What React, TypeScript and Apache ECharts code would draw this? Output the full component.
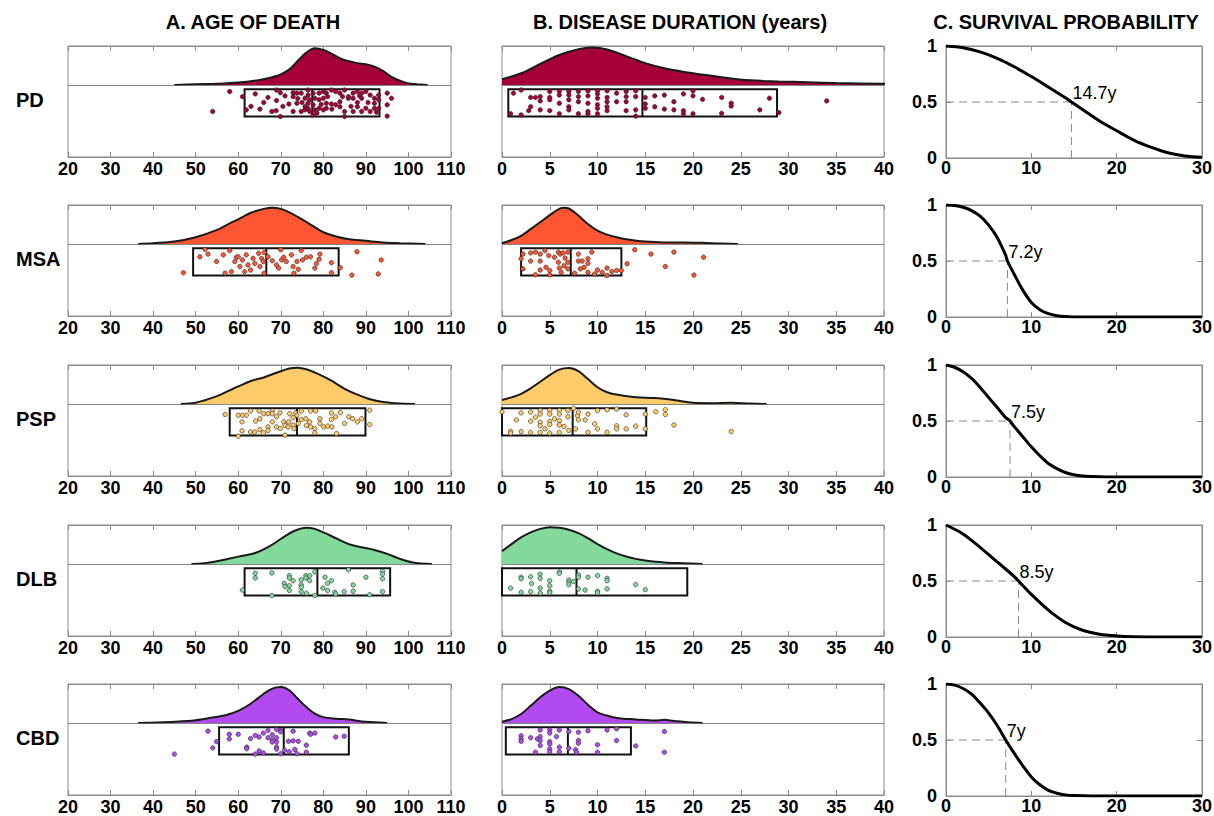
import React, { useEffect, useRef } from 'react';
import * as echarts from 'echarts';

const FONT = '"Liberation Sans", Arial, Helvetica, sans-serif';

const diseases = ['PD', 'MSA', 'PSP', 'DLB', 'CBD'];
const panelTitles = ['A. AGE OF DEATH', 'B. DISEASE DURATION (years)', 'C. SURVIVAL PROBABILITY'];
const ageTicks = [20, 30, 40, 50, 60, 70, 80, 90, 100, 110];
const durationTicks = [0, 5, 10, 15, 20, 25, 30, 35, 40];
const timeTicks = [0, 10, 20, 30];
const probTicks = [0, 0.5, 1];

// box summaries [q1, median, q3]
const ageBoxes = [[61.5, 77.4, 93.2], [49.4, 66.6, 83.6], [58.0, 73.8, 89.9], [61.5, 78.6, 95.7], [55.5, 70.7, 86.0]];
const durationBoxes = [[0.66, 14.7, 28.8], [2.0, 7.2, 12.5], [0, 7.4, 15.1], [0, 7.8, 19.4], [0.4, 6.9, 13.5]];
const medianSurvival = [14.7, 7.2, 7.5, 8.5, 7];

// density curves (scaled, peak ~0.94)
const pdAgeDensity = [[45, 0], [50, 0.02], [55, 0.03], [60, 0.06], [65, 0.13], [68, 0.2], [70, 0.27], [72, 0.4], [74, 0.62], [76, 0.83], [78, 0.94], [80, 0.9], [82, 0.8], [84, 0.68], [86, 0.61], [88, 0.56], [90, 0.53], [92, 0.47], [94, 0.36], [96, 0.21], [98, 0.11], [100, 0.04], [102, 0.02], [104.5, 0]];
const msaAgeDensity = [[36.5, 0], [40, 0.02], [45, 0.06], [50, 0.17], [55, 0.36], [58, 0.53], [60, 0.63], [63, 0.8], [66, 0.9], [68, 0.93], [70, 0.9], [72, 0.81], [75, 0.63], [78, 0.43], [80, 0.3], [83, 0.19], [86, 0.12], [90, 0.08], [94, 0.04], [98, 0.02], [104, 0]];
const pspAgeDensity = [[46.5, 0], [50, 0.03], [55, 0.2], [58, 0.35], [60, 0.45], [63, 0.59], [66, 0.68], [69, 0.8], [72, 0.91], [74, 0.93], [76, 0.89], [79, 0.76], [82, 0.59], [85, 0.39], [88, 0.24], [91, 0.12], [94, 0.05], [97, 0.02], [101.5, 0]];
const dlbAgeDensity = [[49, 0], [52, 0.02], [55, 0.07], [58, 0.14], [61, 0.21], [64, 0.28], [67, 0.43], [70, 0.64], [73, 0.84], [76, 0.93], [78, 0.9], [80, 0.81], [83, 0.66], [86, 0.51], [89, 0.43], [92, 0.36], [95, 0.26], [98, 0.13], [101, 0.04], [105.5, 0]];
const cbdAgeDensity = [[36.5, 0], [40, 0.01], [45, 0.03], [50, 0.07], [54, 0.14], [57, 0.2], [60, 0.31], [63, 0.5], [66, 0.75], [68, 0.88], [70, 0.92], [72, 0.84], [74, 0.62], [76, 0.41], [78, 0.24], [80, 0.15], [83, 0.11], [86, 0.09], [89, 0.04], [92, 0.02], [95, 0]];

const pdDurationDensity = [[0, 0.15], [2, 0.3], [4, 0.54], [6, 0.77], [8, 0.92], [9.5, 0.96], [11, 0.91], [13, 0.74], [15, 0.56], [17, 0.43], [20, 0.3], [23, 0.2], [26, 0.12], [29, 0.09], [32, 0.07], [35, 0.05], [40, 0.03], [42, 0.02]];
const msaDurationDensity = [[0, 0.02], [1, 0.1], [2, 0.21], [3, 0.38], [4, 0.56], [5, 0.74], [6, 0.9], [6.5, 0.93], [7, 0.91], [8, 0.73], [9, 0.51], [10, 0.34], [11, 0.24], [12, 0.17], [13, 0.12], [15, 0.06], [17, 0.04], [19, 0.04], [21, 0.03], [23, 0.01], [24.7, 0]];
const pspDurationDensity = [[0, 0.1], [1, 0.17], [2, 0.26], [3, 0.4], [4, 0.57], [5, 0.74], [6, 0.88], [7, 0.92], [8, 0.84], [9, 0.64], [10, 0.43], [11, 0.3], [12, 0.24], [14, 0.17], [16, 0.15], [18, 0.1], [20, 0.03], [22, 0.02], [24, 0.03], [26, 0.01], [27.7, 0]];
const dlbDurationDensity = [[0, 0.33], [1, 0.51], [2, 0.68], [3, 0.81], [4, 0.9], [5, 0.94], [6, 0.93], [7, 0.88], [8, 0.79], [9, 0.66], [10, 0.51], [11, 0.38], [12, 0.27], [13, 0.19], [14, 0.13], [15, 0.09], [17, 0.04], [19, 0.02], [21, 0]];
const cbdDurationDensity = [[0, 0.03], [1, 0.1], [2, 0.23], [3, 0.44], [4, 0.66], [5, 0.83], [6, 0.92], [7, 0.87], [8, 0.7], [9, 0.47], [10, 0.27], [11, 0.19], [12, 0.13], [14, 0.09], [16, 0.06], [17, 0.08], [18, 0.05], [19.5, 0.02], [21, 0]];

// individual cases [value, jitter]
const pdAgePoints = [[58.0, -0.17], [54.0, -0.68], [61.0, -0.30], [61.9, -0.64], [64.0, -0.23], [65.1, -0.62], [67.0, -0.32], [67.9, -0.68], [69.0, -0.13], [69.0, -0.40], [68.9, -0.66], [69.9, -0.20], [69.9, -0.81], [71.9, -0.49], [72.9, -0.20], [72.9, -0.30], [72.9, -0.68], [73.8, -0.21], [73.8, -0.47], [74.8, -0.21], [74.8, -0.68], [75.7, -0.34], [75.7, -0.56], [75.7, -0.64], [76.4, -0.13], [76.4, -0.26], [76.4, -0.47], [76.4, -0.60], [76.8, -0.38], [76.8, -0.68], [77.6, -0.21], [77.6, -0.51], [77.6, -0.77], [78.0, -0.34], [78.0, -0.64], [79.0, -0.21], [79.0, -0.38], [79.0, -0.60], [80.0, -0.17], [80.0, -0.34], [80.0, -0.64], [80.7, -0.21], [80.7, -0.47], [80.7, -0.60], [81.9, -0.13], [81.9, -0.49], [82.9, -0.17], [82.9, -0.51], [83.9, -0.43], [83.9, -0.56], [83.9, -0.21], [85.0, -0.13], [85.0, -0.68], [85.0, -0.81], [85.9, -0.34], [85.9, -0.30], [87.0, -0.21], [87.0, -0.34], [87.0, -0.68], [88.0, -0.17], [88.0, -0.45], [88.0, -0.56], [89.0, -0.21], [89.0, -0.34], [89.0, -0.68], [90.0, -0.17], [90.0, -0.60], [91.0, -0.26], [91.0, -0.68], [92.0, -0.34], [92.0, -0.47], [92.0, -0.60], [93.0, -0.26], [93.0, -0.38], [93.0, -0.60], [95.0, -0.21], [95.0, -0.80], [95.0, -0.51], [96.0, -0.34], [70.5, -0.55], [71.0, -0.28], [74.0, -0.35], [75.0, -0.45], [78.5, -0.72], [79.5, -0.50], [81.0, -0.30], [82.0, -0.62], [84.5, -0.30], [86.5, -0.55], [88.5, -0.28], [90.5, -0.45], [92.5, -0.70], [66.0, -0.45], [63.0, -0.55]];
const msaAgePoints = [[47.1, -0.74], [51.0, -0.33], [52.2, -0.14], [52.9, -0.26], [54.9, -0.45], [56.5, -0.28], [56.9, -0.75], [58.0, -0.17], [58.4, -0.71], [59.2, -0.45], [59.6, -0.34], [60.0, -0.33], [60.4, -0.58], [61.0, -0.41], [61.5, -0.71], [61.9, -0.28], [62.3, -0.54], [62.9, -0.67], [63.5, -0.37], [63.9, -0.50], [64.8, -0.24], [65.1, -0.58], [65.5, -0.37], [65.9, -0.45], [66.1, -0.22], [66.1, -0.75], [67.0, -0.33], [68.0, -0.43], [69.0, -0.54], [69.5, -0.62], [70.0, -0.15], [70.2, -0.41], [70.7, -0.34], [71.3, -0.45], [72.5, -0.28], [72.9, -0.58], [73.1, -0.75], [73.8, -0.45], [74.1, -0.65], [74.8, -0.17], [75.1, -0.41], [76.0, -0.34], [77.0, -0.33], [78.0, -0.62], [78.4, -0.50], [79.0, -0.39], [79.2, -0.26], [81.9, -0.48], [81.9, -0.74], [84.0, -0.61], [86.7, -0.80], [87.9, -0.20], [92.9, -0.77], [93.6, -0.41]];
const pspAgePoints = [[56.9, -0.27], [60.0, -0.29], [60.0, -0.83], [60.9, -0.46], [60.9, -0.69], [61.0, -0.29], [61.9, -0.29], [62.9, -0.18], [62.9, -0.72], [63.9, -0.72], [64.1, -0.44], [64.9, -0.18], [65.1, -0.38], [65.1, -0.66], [65.9, -0.74], [66.0, -0.25], [67.0, -0.25], [67.0, -0.59], [67.0, -0.68], [68.0, -0.18], [68.0, -0.25], [68.0, -0.46], [69.0, -0.33], [69.0, -0.59], [69.8, -0.23], [69.9, -0.63], [70.7, -0.46], [71.0, -0.55], [71.0, -0.80], [71.7, -0.59], [71.9, -0.46], [72.1, -0.25], [72.9, -0.35], [72.9, -0.55], [73.1, -0.63], [73.5, -0.23], [73.8, -0.29], [74.1, -0.50], [74.8, -0.18], [74.8, -0.40], [75.9, -0.38], [76.0, -0.55], [76.8, -0.46], [77.0, -0.18], [77.0, -0.59], [78.0, -0.63], [78.0, -0.74], [78.2, -0.18], [79.2, -0.38], [79.2, -0.50], [80.1, -0.59], [81.0, -0.57], [81.9, -0.23], [81.9, -0.40], [82.0, -0.59], [82.9, -0.33], [83.1, -0.76], [84.0, -0.22], [85.0, -0.50], [86.0, -0.33], [86.9, -0.38], [88.0, -0.46], [89.0, -0.38], [90.9, -0.16], [90.9, -0.53]];
const dlbAgePoints = [[61.0, -0.67], [64.0, -0.24], [64.0, -0.36], [67.9, -0.23], [67.9, -0.81], [70.8, -0.50], [71.0, -0.58], [72.0, -0.30], [72.0, -0.36], [72.0, -0.56], [72.0, -0.68], [72.9, -0.43], [74.8, -0.41], [74.8, -0.54], [74.8, -0.60], [74.8, -0.71], [75.9, -0.30], [75.9, -0.36], [76.0, -0.75], [76.8, -0.30], [76.8, -0.43], [78.0, -0.20], [78.0, -0.81], [79.9, -0.62], [80.4, -0.34], [81.0, -0.50], [81.0, -0.68], [81.9, -0.43], [82.7, -0.73], [82.9, -0.77], [84.9, -0.71], [85.9, -0.15], [87.0, -0.54], [87.0, -0.70], [90.0, -0.34], [90.9, -0.79], [93.9, -0.19], [93.9, -0.26], [93.9, -0.38], [93.9, -0.71]];
const cbdAgePoints = [[45.0, -0.80], [52.9, -0.21], [54.0, -0.64], [54.9, -0.48], [57.9, -0.29], [57.9, -0.41], [60.0, -0.29], [62.0, -0.62], [62.0, -0.66], [62.9, -0.40], [64.0, -0.32], [64.0, -0.80], [64.9, -0.36], [64.9, -0.72], [65.9, -0.26], [65.9, -0.77], [67.0, -0.19], [67.0, -0.38], [68.0, -0.30], [68.0, -0.43], [68.0, -0.49], [69.0, -0.17], [69.0, -0.38], [69.0, -0.49], [69.0, -0.62], [69.0, -0.67], [70.0, -0.19], [70.0, -0.23], [70.0, -0.79], [70.9, -0.70], [71.8, -0.47], [72.0, -0.74], [72.9, -0.21], [72.9, -0.46], [73.3, -0.68], [74.1, -0.47], [73.8, -0.79], [76.0, -0.57], [76.0, -0.75], [76.8, -0.26], [77.0, -0.29], [78.0, -0.26], [82.9, -0.36], [84.9, -0.34]];

const pdDurationPoints = [[0.9, -0.74], [1.2, -0.21], [2, -0.13], [2, -0.77], [2.8, -0.66], [3, -0.32], [3, -0.56], [3.5, -0.32], [4, -0.30], [4, -0.41], [4, -0.64], [5, -0.17], [5, -0.32], [5, -0.38], [5, -0.66], [6, -0.17], [6, -0.26], [6, -0.47], [6, -0.74], [7, -0.17], [7, -0.26], [7, -0.38], [7, -0.56], [7, -0.64], [8, -0.17], [8, -0.30], [8, -0.43], [8, -0.74], [9, -0.15], [9, -0.28], [9, -0.47], [9, -0.68], [9, -0.74], [10, -0.15], [10, -0.23], [10, -0.34], [10, -0.51], [10, -0.60], [10, -0.74], [11, -0.15], [11, -0.32], [11, -0.43], [11, -0.56], [11, -0.66], [12, -0.21], [12, -0.43], [13, -0.17], [13, -0.30], [13, -0.43], [13, -0.66], [14, -0.15], [14, -0.30], [14, -0.64], [14, -0.80], [15, -0.32], [15, -0.49], [15, -0.60], [16, -0.28], [16, -0.56], [17, -0.26], [17, -0.62], [18, -0.43], [18, -0.64], [19, -0.23], [19, -0.66], [19, -0.74], [20, -0.15], [20, -0.28], [20, -0.74], [21, -0.37], [23, -0.32], [23, -0.73], [24, -0.47], [24, -0.54], [27, -0.64], [28, -0.34], [29, -0.71], [34, -0.41]];
const msaDurationPoints = [[2.0, -0.38], [2.2, -0.64], [2.2, -0.26], [3.0, -0.23], [3.0, -0.44], [3.5, -0.21], [3.5, -0.79], [4.0, -0.26], [4.0, -0.44], [4.0, -0.67], [4.5, -0.17], [4.6, -0.60], [4.9, -0.30], [5.0, -0.68], [5.0, -0.79], [5.5, -0.34], [5.9, -0.21], [5.9, -0.47], [6.0, -0.62], [6.1, -0.26], [6.2, -0.73], [6.4, -0.23], [6.5, -0.56], [6.6, -0.36], [6.9, -0.21], [6.9, -0.47], [6.9, -0.64], [7.6, -0.75], [8.0, -0.26], [8.0, -0.44], [8.2, -0.64], [8.4, -0.44], [8.6, -0.60], [9.0, -0.38], [9.0, -0.50], [9.0, -0.73], [9.4, -0.21], [9.7, -0.77], [10.0, -0.67], [10.5, -0.73], [11.0, -0.62], [11.0, -0.81], [11.5, -0.71], [12.0, -0.68], [12.5, -0.68], [13.1, -0.51], [13.9, -0.15], [15.6, -0.26], [17.1, -0.58], [18.0, -0.21], [20.1, -0.80], [21.1, -0.34]];
const pspDurationPoints = [[0, -0.20], [0.9, -0.70], [0.9, -0.75], [1.5, -0.41], [2.0, -0.23], [2.0, -0.71], [3.0, -0.21], [3.0, -0.44], [3.0, -0.73], [3.5, -0.34], [4.0, -0.17], [4.0, -0.26], [4.0, -0.47], [4.0, -0.56], [4.0, -0.73], [4.5, -0.64], [5.0, -0.17], [5.0, -0.26], [5.0, -0.45], [5.0, -0.53], [5.0, -0.75], [5.5, -0.38], [6.0, -0.17], [6.0, -0.26], [6.0, -0.43], [6.0, -0.54], [6.0, -0.73], [6.5, -0.58], [6.9, -0.17], [6.9, -0.33], [7.0, -0.68], [7.5, -0.11], [7.7, -0.64], [7.9, -0.30], [8.0, -0.21], [8.0, -0.41], [8.7, -0.41], [9.0, -0.26], [9.0, -0.73], [9.7, -0.51], [10.0, -0.17], [10.0, -0.64], [11.0, -0.15], [11.0, -0.73], [12.0, -0.13], [12.0, -0.56], [12.0, -0.64], [13.0, -0.28], [13.0, -0.64], [14.0, -0.57], [15.0, -0.26], [15.0, -0.64], [16.1, -0.20], [17.1, -0.15], [17.1, -0.27], [18.0, -0.54], [24.0, -0.71]];
const dlbDurationPoints = [[0.9, -0.62], [2.0, -0.34], [2.0, -0.38], [2.0, -0.73], [3.0, -0.33], [3.1, -0.50], [3.0, -0.71], [4.0, -0.26], [4.0, -0.37], [4.0, -0.62], [4.0, -0.75], [5.0, -0.43], [5.0, -0.56], [5.0, -0.70], [5.0, -0.74], [6.0, -0.21], [6.0, -0.24], [7.0, -0.41], [7.0, -0.47], [7.0, -0.53], [7.5, -0.45], [8.0, -0.28], [8.0, -0.34], [8.0, -0.64], [8.7, -0.67], [9.0, -0.34], [10.0, -0.30], [10.0, -0.70], [10.0, -0.74], [11.0, -0.37], [11.0, -0.43], [11.0, -0.64], [14.0, -0.53], [15.0, -0.66]];
const cbdDurationPoints = [[2.0, -0.33], [2.0, -0.41], [2.0, -0.47], [3.0, -0.38], [3.5, -0.75], [3.7, -0.41], [4.0, -0.18], [4.0, -0.35], [4.0, -0.45], [4.0, -0.58], [5.0, -0.18], [5.0, -0.26], [5.0, -0.48], [5.0, -0.54], [5.0, -0.67], [5.0, -0.74], [5.7, -0.35], [6.0, -0.18], [6.0, -0.62], [6.0, -0.74], [7.0, -0.22], [7.0, -0.65], [7.7, -0.69], [7.8, -0.75], [8.0, -0.24], [8.0, -0.45], [8.0, -0.52], [9.0, -0.20], [10.0, -0.56], [10.0, -0.75], [11.0, -0.18], [12.0, -0.15], [12.0, -0.45], [14.0, -0.59], [17.0, -0.22], [17.0, -0.75]];

// survival curves [years, probability]
const pdSurvival = [[0, 1], [2, 0.985], [4, 0.947], [6, 0.89], [8, 0.815], [10, 0.727], [12, 0.633], [14, 0.537], [14.7, 0.5], [16, 0.434], [18, 0.33], [20, 0.243], [22, 0.16], [24, 0.097], [26, 0.047], [28, 0.018], [30, 0.006]];
const msaSurvival = [[0, 1], [1, 0.995], [2, 0.98], [3, 0.95], [4, 0.9], [5, 0.82], [6, 0.71], [7, 0.55], [7.2, 0.5], [8, 0.38], [9, 0.24], [10, 0.13], [11, 0.065], [12, 0.03], [13, 0.012], [14, 0.004], [15, 0.001], [17, 0], [30, 0]];
const pspSurvival = [[0, 1], [1, 0.98], [2, 0.94], [3, 0.88], [4, 0.8], [5, 0.71], [6, 0.62], [7, 0.53], [7.5, 0.5], [8, 0.45], [9, 0.36], [10, 0.27], [11, 0.19], [12, 0.12], [13, 0.075], [14, 0.04], [15, 0.02], [16, 0.01], [18, 0.002], [20, 0], [30, 0]];
const dlbSurvival = [[0, 1], [2, 0.92], [4, 0.8], [6, 0.67], [8, 0.54], [8.5, 0.5], [10, 0.38], [12, 0.24], [14, 0.13], [16, 0.06], [18, 0.025], [20, 0.01], [22, 0.003], [25, 0], [30, 0]];
const cbdSurvival = [[0, 1], [1, 0.99], [2, 0.96], [3, 0.91], [4, 0.83], [5, 0.74], [6, 0.63], [7, 0.5], [8, 0.38], [9, 0.27], [10, 0.17], [11, 0.1], [12, 0.05], [13, 0.025], [14, 0.01], [15, 0.004], [17, 0], [30, 0]];

const ageDensities = [pdAgeDensity, msaAgeDensity, pspAgeDensity, dlbAgeDensity, cbdAgeDensity];
const durationDensities = [pdDurationDensity, msaDurationDensity, pspDurationDensity, dlbDurationDensity, cbdDurationDensity];
const agePoints = [pdAgePoints, msaAgePoints, pspAgePoints, dlbAgePoints, cbdAgePoints];
const durationPoints = [pdDurationPoints, msaDurationPoints, pspDurationPoints, dlbDurationPoints, cbdDurationPoints];
const survivals = [pdSurvival, msaSurvival, pspSurvival, dlbSurvival, cbdSurvival];

// styles & layout
const fills = ['#A6003B', '#FE5632', '#FECB6A', '#83D99C', '#B24BEF'];
const COL_LEFT = [68, 502, 946];
const COL_WIDTH = [383, 382, 256];
const ROW_TOP = [46, 205, 365, 525, 684];
const PLOT_H = 111;
const SURV_H = 112;
const Y_MIN = -1.85;
const Y_MAX = 1;
const BOX_TOP = -0.11;
const BOX_BOTTOM = -0.81;
const AXIS_GRAY = '#8c8c8c';

function buildOption() {
  const grid: any[] = [];
  const xAxis: any[] = [];
  const yAxis: any[] = [];
  const series: any[] = [];
  const graphic: any[] = [];

  const labelStyle = { color: '#000', fontWeight: 'bold', fontSize: 18, fontFamily: FONT };

  const addAxes = (gi: number, ticks: number[], yTicks: number[] | null) => {
    const xBase = {
      gridIndex: gi, type: 'value', min: ticks[0], max: ticks[ticks.length - 1], interval: ticks[1] - ticks[0],
      axisLine: { show: true, onZero: false, lineStyle: { color: AXIS_GRAY, width: 1 } },
      axisTick: { show: true, inside: true, length: 5, lineStyle: { color: AXIS_GRAY } },
      splitLine: { show: false },
    };
    const bottomIdx = xAxis.length;
    xAxis.push({ ...xBase, position: 'bottom', axisLabel: { ...labelStyle, margin: yTicks ? 1 : 3 } });
    xAxis.push({ ...xBase, position: 'top', axisLabel: { show: false } });
    if (yTicks) {
      const yBase = {
        gridIndex: gi, type: 'value', min: yTicks[0], max: yTicks[yTicks.length - 1], interval: yTicks[1] - yTicks[0],
        axisLine: { show: true, onZero: false, lineStyle: { color: AXIS_GRAY } },
        axisTick: { show: true, inside: true, length: 5, lineStyle: { color: AXIS_GRAY } },
        splitLine: { show: false },
      };
      yAxis.push({ ...yBase, position: 'left', axisLabel: { ...labelStyle, margin: 9 } });
      yAxis.push({ ...yBase, position: 'right', axisLabel: { show: false } });
    } else {
      yAxis.push({
        gridIndex: gi, type: 'value', min: Y_MIN, max: Y_MAX,
        axisLine: { show: false }, axisTick: { show: false }, axisLabel: { show: false }, splitLine: { show: false },
      });
      yAxis.push({
        gridIndex: gi, type: 'value', min: Y_MIN, max: Y_MAX, position: 'right',
        axisLine: { show: false }, axisTick: { show: false }, axisLabel: { show: false }, splitLine: { show: false },
      });
    }
    return bottomIdx;
  };

  diseases.forEach((name, r) => {
    for (let c = 0; c < 3; c++) {
      const gi = r * 3 + c;
      grid.push({
        left: COL_LEFT[c], top: ROW_TOP[r], width: COL_WIDTH[c], height: c === 2 ? SURV_H : PLOT_H,
        show: true, borderColor: AXIS_GRAY, borderWidth: 1, backgroundColor: '#fff', outerBoundsMode: 'none',
      });
      const xi = addAxes(gi, c === 0 ? ageTicks : c === 1 ? durationTicks : timeTicks, c === 2 ? probTicks : null);
      const yi = gi * 2;
      if (c < 2) {
        const dens = c === 0 ? ageDensities[r] : durationDensities[r];
        const pts = c === 0 ? agePoints[r] : durationPoints[r];
        const box = c === 0 ? ageBoxes[r] : durationBoxes[r];
        series.push({
          type: 'line', xAxisIndex: xi, yAxisIndex: yi, data: dens, smooth: 0.35, symbol: 'none', silent: true,
          lineStyle: { color: '#1a1a1a', width: 2 }, areaStyle: { color: fills[r], opacity: 1, origin: 'auto' },
          z: 3,
          markLine: {
            silent: true, symbol: ['none', 'none'], label: { show: false },
            lineStyle: { color: '#666', width: 0.8, type: 'solid' }, data: [{ yAxis: 0 }],
          },
        });
        series.push({
          type: 'custom', xAxisIndex: xi, yAxisIndex: yi, data: [box], silent: true, z: 4,
          renderItem: (params: any, api: any) => {
            const q1 = api.value(0), med = api.value(1), q3 = api.value(2);
            const a = api.coord([q1, BOX_TOP]);
            const b = api.coord([q3, BOX_BOTTOM]);
            const m1 = api.coord([med, BOX_TOP]);
            const m2 = api.coord([med, BOX_BOTTOM]);
            return {
              type: 'group',
              children: [
                { type: 'rect', shape: { x: a[0], y: a[1], width: b[0] - a[0], height: b[1] - a[1] }, style: { fill: 'none', stroke: '#111', lineWidth: 2 } },
                { type: 'line', shape: { x1: m1[0], y1: m1[1], x2: m2[0], y2: m2[1] }, style: { stroke: '#111', lineWidth: 2 } },
              ],
            };
          },
        });
        series.push({
          type: 'scatter', xAxisIndex: xi, yAxisIndex: yi, data: pts, symbolSize: 4.5, silent: true, z: 5,
          itemStyle: { color: fills[r], borderColor: '#2a2a2a', borderWidth: 0.6, opacity: 1 },
        });
      } else {
        const med = medianSurvival[r];
        series.push({
          type: 'line', xAxisIndex: xi, yAxisIndex: yi, data: [[0, 0.5], [med, 0.5]], symbol: 'none', silent: true,
          lineStyle: { color: '#888', width: 1, type: [8, 5] }, z: 2,
        });
        series.push({
          type: 'line', xAxisIndex: xi, yAxisIndex: yi, data: [[med, 0], [med, 0.5]], symbol: 'none', silent: true,
          lineStyle: { color: '#888', width: 1, type: [8, 5] }, z: 2,
        });
        series.push({
          type: 'line', xAxisIndex: xi, yAxisIndex: yi, data: survivals[r], smooth: 0.3, symbol: 'none', silent: true,
          lineStyle: { color: '#000', width: 3 }, z: 3,
        });
        series.push({
          type: 'scatter', xAxisIndex: xi, yAxisIndex: yi, data: [[med, 0.5]], symbolSize: 0, silent: true, z: 4,
          itemStyle: { color: '#000', opacity: 1 },
          label: {
            show: true, position: 'right', distance: 1, offset: [0, -9], formatter: `${med}y`,
            color: '#000', opacity: 1, fontSize: 18, fontFamily: FONT,
          },
        });
      }
    }
    graphic.push({
      type: 'text', x: 16, y: ROW_TOP[r] + 54,
      style: { text: name, font: `bold 20px ${FONT}`, fill: '#000', textAlign: 'left', textVerticalAlign: 'middle' },
    });
  });

  const titleX = [253, 680, 1066];
  panelTitles.forEach((t, i) => {
    graphic.push({
      type: 'text', x: titleX[i], y: 22,
      style: { text: t, font: `bold 20px ${FONT}`, fill: '#000', textAlign: 'center', textVerticalAlign: 'middle' },
    });
  });

  return { animation: false, backgroundColor: '#fff', grid, xAxis, yAxis, series, graphic };
}

export default function App() {
  const ref = useRef<HTMLDivElement>(null);
  useEffect(() => {
    if (!ref.current) return;
    const chart = echarts.init(ref.current, undefined, { renderer: 'svg' });
    chart.setOption(buildOption() as any);
    return () => chart.dispose();
  }, []);
  return <div ref={ref} style={{ position: 'absolute', left: 0, top: 0, width: 1214, height: 816 }} />;
}
